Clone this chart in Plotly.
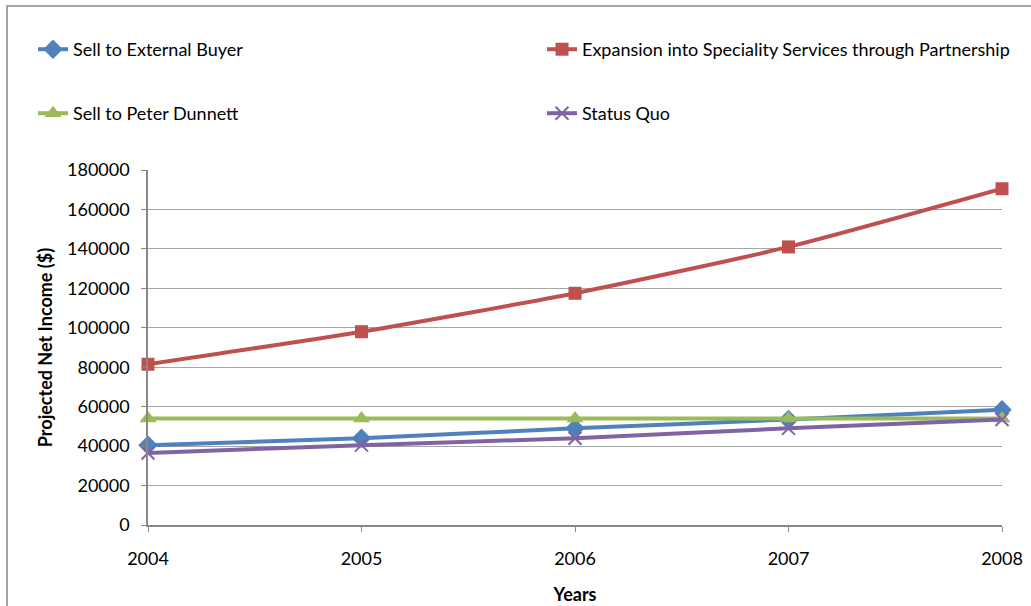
import plotly.graph_objects as go

years = [2004, 2005, 2006, 2007, 2008]
sell_external = [40500, 44000, 49000, 53500, 58500]
expansion = [81500, 98000, 117500, 141000, 170500]
sell_peter = [54000, 54000, 54000, 54000, 54000]
status_quo = [36500, 40500, 44000, 49000, 53500]

FONT = "Lato"
series = [
    ("Sell to External Buyer", sell_external, "#4F81BD", "diamond", 15, "legend", 33, 31),
    ("Expansion into Speciality Services through Partnership", expansion, "#C0504D", "square", 13, "legend2", 542, 31),
    ("Sell to Peter Dunnett", sell_peter, "#9BBB59", "triangle-up", 15, "legend3", 33, 95),
    ("Status Quo", status_quo, "#8064A2", "x-thin-open", 13, "legend4", 542, 95),
]

fig = go.Figure()
legends = {}
for name, vals, color, sym, size, lg, lx, ly in series:
    marker = dict(symbol=sym, size=size, color=color)
    if sym == "x-thin-open":
        marker["line"] = dict(color=color, width=2)
    fig.add_trace(go.Scatter(
        x=years, y=vals, name=name, mode="lines+markers",
        line=dict(color=color, width=4, shape="spline", smoothing=0.6),
        marker=marker, legend=lg, cliponaxis=False, showlegend=True,
    ))
    legends[lg] = dict(orientation="h", xref="container", yref="container",
                       x=lx / 1031, y=1 - ly / 606, xanchor="left", yanchor="top",
                       font=dict(family=FONT, size=18), bgcolor="rgba(0,0,0,0)", visible=True)

fig.update_layout(
    width=1031, height=606,
    showlegend=True,
    margin=dict(l=148, r=29, t=170, b=81, autoexpand=False),
    paper_bgcolor="white", plot_bgcolor="white",
    font=dict(family=FONT, size=18, color="#000000"),
    xaxis=dict(range=[2004, 2008], tickvals=years, ticktext=[str(y) for y in years],
               showgrid=False, zeroline=False, showline=True, linecolor="#888888", linewidth=1.5,
               ticks="outside", ticklen=5, tickcolor="#888888", ticklabelstandoff=12,
               tickfont=dict(family=FONT, size=18),
               title=dict(text="<b>Years</b>", font=dict(family=FONT, size=18), standoff=20)),
    yaxis=dict(range=[0, 180000], dtick=20000, tickformat="d",
               showgrid=True, gridcolor="#A6A6A6", gridwidth=1, zeroline=False,
               showline=True, linecolor="#888888", linewidth=1.5,
               ticks="outside", ticklen=5, tickcolor="#888888", ticklabelstandoff=8,
               tickfont=dict(family=FONT, size=18),
               title=dict(text="<b>Projected Net Income ($)</b>", font=dict(family=FONT, size=18), standoff=10)),
    **legends,
)

fig.add_shape(type="rect", xref="paper", yref="paper",
              x0=(7 - 148) / 854, x1=(1040 - 148) / 854,
              y0=-(620 - 525) / 355, y1=(525 - 6) / 355,
              line=dict(color="#888888", width=1.5), fillcolor="rgba(0,0,0,0)", layer="below")

fig.write_html("out.html")
